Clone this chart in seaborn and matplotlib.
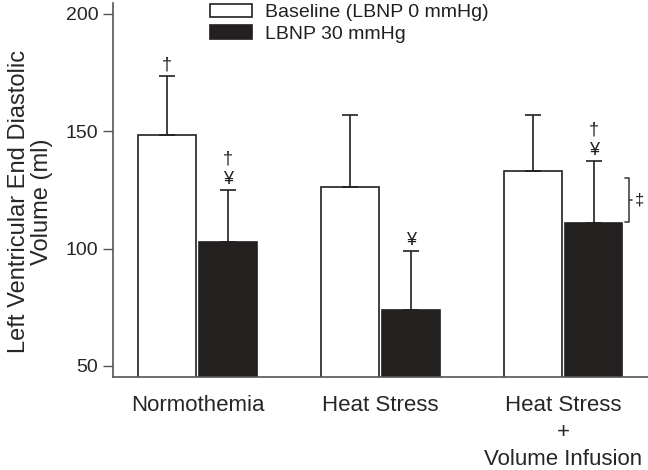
import pandas as pd
import matplotlib.pyplot as plt
import seaborn as sns

# values (mean, upper SD)
groups = ['Normothemia', 'Heat Stress', 'Heat Stress\n+\nVolume Infusion']
conditions = ['Baseline (LBNP 0 mmHg)', 'LBNP 30 mmHg']
baseline_mean = [148.3, 126.3, 133.0]
baseline_sd = [25.4, 30.5, 23.8]
lbnp_mean = [102.7, 73.7, 111.0]
lbnp_sd = [22.3, 25.2, 26.3]
# significance symbols stacked above each bar
baseline_marks = [['†'], [], []]
lbnp_marks = [['¥', '†'], ['¥'], ['¥', '†']]

df = pd.DataFrame({
    'Group': groups * 2,
    'Condition': [conditions[0]] * 3 + [conditions[1]] * 3,
    'Volume': baseline_mean + lbnp_mean,
})
sds = baseline_sd + lbnp_sd
marks = baseline_marks + lbnp_marks

sns.set_style('ticks')
plt.rcParams['font.family'] = ['Liberation Sans', 'DejaVu Sans']
plt.rcParams['text.color'] = '#231f20'

fig = plt.figure(figsize=(6.48, 4.70), dpi=100)
ax = fig.add_axes([0.174, 0.198, 0.826, 0.796])

sns.barplot(data=df, x='Group', y='Volume', hue='Condition', order=groups,
            hue_order=conditions, palette=['white', '#231f20'],
            edgecolor='#231f20', linewidth=1.2, width=0.667, gap=0.05,
            errorbar=None, ax=ax)

# upper-only SD whiskers, placed from the bars seaborn drew
bars = [p for p in ax.patches if p.get_height() > 0][:6]
for p, sd, mk in zip(bars, sds, marks):
    cx = p.get_x() + p.get_width() / 2
    top = p.get_height()
    ax.errorbar(cx, top, yerr=[[0], [sd]], fmt='none', ecolor='#231f20',
                elinewidth=1.2, capsize=5.5, capthick=1.2, zorder=3)
    y = top + sd + 4.5
    for s in mk:
        ax.text(cx, y, s, ha='center', va='center', fontsize=13)
        y += 8.5

# bracket beside the last LBNP bar
bx = 2.34
ax.plot([bx, bx + 0.02, bx + 0.02, bx], [111.4, 111.4, 130, 130],
        color='#444444', lw=1.2, clip_on=False)
ax.plot([bx + 0.02, bx + 0.04], [120.7, 120.7], color='#444444', lw=1.2,
        clip_on=False)
ax.text(2.42, 120.7, '‡', ha='center', va='center', fontsize=12)

ax.set_ylim(45.3, 204.7)
ax.set_xlim(-0.465, 2.465)
ax.set_yticks([50, 100, 150, 200])
ax.set_xlabel('')
ax.set_ylabel('Left Ventricular End Diastolic\nVolume (ml)', fontsize=17,
              linespacing=1.1)
ax.yaxis.set_label_coords(-0.111, 0.468)
ax.tick_params(axis='x', length=0, pad=13, labelsize=16)
ax.tick_params(axis='y', length=7, width=1.0, color='#555555', labelsize=14)
for lbl in ax.get_xticklabels():
    lbl.set_linespacing(1.38)
sns.despine(ax=ax)
for sp in ['left', 'bottom']:
    ax.spines[sp].set_color('#555555')
    ax.spines[sp].set_linewidth(1.2)

ax.legend(loc='upper left', bbox_to_anchor=(0.181, 0.998), frameon=False,
          handlelength=2.16, handleheight=0.72, labelspacing=0.2,
          handletextpad=0.67, borderaxespad=0, borderpad=0, fontsize=14)

fig.savefig('out.png', dpi=100)
